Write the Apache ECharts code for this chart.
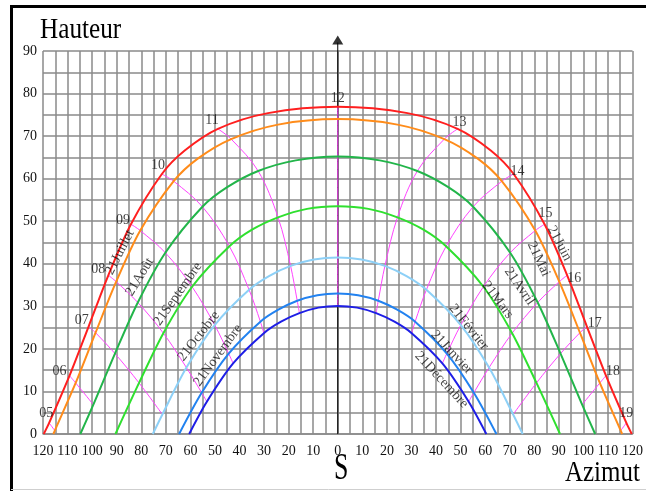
<!DOCTYPE html>
<html><head><meta charset="utf-8">
<script src="https://cdn.jsdelivr.net/npm/echarts@6/dist/echarts.min.js"></script>
<style>html,body{margin:0;padding:0;background:#fff}#c{width:646px;height:491px}</style>
</head><body><div id="c"></div>
<script>
// ---- data (azimuth [deg, east negative], altitude [deg]) ----
const xTicks = [-120,-110,-100,-90,-80,-70,-60,-50,-40,-30,-20,-10,0,10,20,30,40,50,60,70,80,90,100,110,120];
const yTicks = [0,10,20,30,40,50,60,70,80,90];

const juin = [[-119.7,0],[-117.5,2.6],[-109.2,13.7],[-101.4,25.3],[-93.4,37.3],[-84.2,49.3],[-71.6,61.1],[-62.3,66.6],[-48.8,71.7],[-28.4,75.4],[0,76.9],[28.4,75.4],[48.8,71.7],[62.3,66.6],[71.6,61.1],[84.2,49.3],[93.4,37.3],[101.4,25.3],[109.2,13.7],[117.5,2.6],[119.7,0]];
const mai = [[-115.8,0],[-115.2,0.8],[-106.7,12.0],[-98.6,23.8],[-90.2,35.8],[-80.4,47.8],[-66.8,59.4],[-57.0,64.7],[-43.4,69.3],[-24.3,72.7],[0,74.0],[24.3,72.7],[43.4,69.3],[57.0,64.7],[66.8,59.4],[80.4,47.8],[90.2,35.8],[98.6,23.8],[106.7,12.0],[115.2,0.8],[115.8,0]];
const avril = [[-104.8,0],[-99.5,6.9],[-90.7,18.9],[-81.4,30.9],[-70.2,42.6],[-55.1,53.4],[-45.0,58.0],[-32.4,61.8],[-17.1,64.3],[0,65.2],[17.1,64.3],[32.4,61.8],[45.0,58.0],[55.1,53.4],[70.2,42.6],[81.4,30.9],[90.7,18.9],[99.5,6.9],[104.8,0]];
const mars = [[-90.5,0],[-80.9,12.0],[-71.0,23.7],[-59.3,34.6],[-44.1,44.1],[-34.9,48.0],[-24.3,50.9],[-12.5,52.9],[0,53.5],[12.5,52.9],[24.3,50.9],[34.9,48.0],[44.1,44.1],[59.3,34.6],[71.0,23.7],[80.9,12.0],[90.5,0]];
const fevrier = [[-75.3,0],[-71.4,4.6],[-61.6,15.6],[-50.1,25.6],[-36.1,33.9],[-28.0,37.1],[-19.2,39.5],[-9.7,41.0],[0,41.5],[9.7,41.0],[19.2,39.5],[28.0,37.1],[36.1,33.9],[50.1,25.6],[61.6,15.6],[71.4,4.6],[75.3,0]];
const janvier = [[-64.6,0],[-55.4,9.7],[-44.4,18.9],[-31.5,26.4],[-24.2,29.2],[-16.5,31.3],[-8.3,32.6],[0,33.0],[8.3,32.6],[16.5,31.3],[24.2,29.2],[31.5,26.4],[44.4,18.9],[55.4,9.7],[64.6,0]];
const decembre = [[-60.5,0],[-53.3,7.6],[-42.6,16.6],[-30.1,23.7],[-23.1,26.4],[-15.6,28.4],[-7.9,29.7],[0,30.1],[7.9,29.7],[15.6,28.4],[23.1,26.4],[30.1,23.7],[42.6,16.6],[53.3,7.6],[60.5,0]];

const h05 = [[-117.5,2.6],[-115.2,0.8]];
const h06 = [[-109.2,13.7],[-106.7,12.0],[-99.5,6.9]];
const h07 = [[-101.4,25.3],[-98.6,23.8],[-90.7,18.9],[-80.9,12.0],[-71.4,4.6]];
const h08 = [[-93.4,37.3],[-90.2,35.8],[-81.4,30.9],[-71.0,23.7],[-61.6,15.6],[-55.4,9.7],[-53.3,7.6]];
const h09 = [[-84.2,49.3],[-80.4,47.8],[-70.2,42.6],[-59.3,34.6],[-50.1,25.6],[-44.4,18.9],[-42.6,16.6]];
const h10 = [[-71.6,61.1],[-66.8,59.4],[-55.1,53.4],[-44.1,44.1],[-36.1,33.9],[-31.5,26.4],[-30.1,23.7]];
const h11 = [[-48.8,71.7],[-43.4,69.3],[-32.4,61.8],[-24.3,50.9],[-19.2,39.5],[-16.5,31.3],[-15.6,28.4]];
const h12 = [[0,76.9],[0,30.1]];
const h13 = [[48.8,71.7],[43.4,69.3],[32.4,61.8],[24.3,50.9],[19.2,39.5],[16.5,31.3],[15.6,28.4]];
const h14 = [[71.6,61.1],[66.8,59.4],[55.1,53.4],[44.1,44.1],[36.1,33.9],[31.5,26.4],[30.1,23.7]];
const h15 = [[84.2,49.3],[80.4,47.8],[70.2,42.6],[59.3,34.6],[50.1,25.6],[44.4,18.9],[42.6,16.6]];
const h16 = [[93.4,37.3],[90.2,35.8],[81.4,30.9],[71.0,23.7],[61.6,15.6],[55.4,9.7],[53.3,7.6]];
const h17 = [[101.4,25.3],[98.6,23.8],[90.7,18.9],[80.9,12.0],[71.4,4.6]];
const h18 = [[109.2,13.7],[106.7,12.0],[99.5,6.9]];
const h19 = [[117.5,2.6],[115.2,0.8]];

const hourLabels = ['05','06','07','08','09','10','11','12','13','14','15','16','17','18','19'];
const hourPoints = [[-117.5,2.6],[-109.2,13.7],[-101.4,25.3],[-93.4,37.3],[-84.2,49.3],[-71.6,61.1],[-48.8,71.7],[0,76.9],[48.8,71.7],[71.6,61.1],[84.2,49.3],[93.4,37.3],[101.4,25.3],[109.2,13.7],[117.5,2.6]];

const curveLabelText = ['21Juillet','21Août','21Septembre','21Octobre','21Novembre','21Juin','21Mai','21Avril','21Mars','21Février','21Janvier','21Décembre'];
const curveLabelAt = [[-88.7,42.7],[-80.6,36.9],[-65.1,32.9],[-56.6,23.0],[-48.8,18.5],[90.3,44.8],[81.8,41.1],[74.0,34.7],[65.1,31.5],[53.3,25.1],[46.4,19.2],[42.3,12.7]];

const axisArrow = [[0,0],[0,92]];
const arrowHead = [[0,92.6]];

// ---- styles ----
const SERIF = "'Liberation Serif','DejaVu Serif',serif";
const curveRot = [63,59,55,52,54,-62,-65,-55,-53,-51,-47,-47];
const hourOffsets = [[-3,-10],[-10,-4],[-7,-6],[-10,-6],[-8,-4],[-4,-9],[-6,-9],[0,-8],[2,-7],[4,-3],[1,-11],[7,3],[8,-3],[7,-4],[0,-10]];

const dateCurves = [
  {data: decembre, color:'#1e1ee6'},
  {data: janvier, color:'#2282f0'},
  {data: fevrier, color:'#8dd0f7'},
  {data: mars, color:'#2fe02f'},
  {data: avril, color:'#22b54a'},
  {data: mai, color:'#ff8c1a'},
  {data: juin, color:'#ff1f1f'}
];
const hourLines = [h05,h06,h07,h08,h09,h10,h11,h12,h13,h14,h15,h16,h17,h18,h19];

const series = [];
series.push({type:'line', data: axisArrow, symbol:'none', clip:false, silent:true,
  lineStyle:{color:'#000', width:1}, z:2});
series.push({type:'scatter', data: arrowHead, symbol:'triangle', symbolSize:[11,9], clip:false,
  itemStyle:{color:'#000'}, z:2});
hourLines.forEach(d => series.push({type:'line', data:d, symbol:'none', smooth:0.35,
  lineStyle:{color:'#ff44ff', width:1}, z:3}));
dateCurves.forEach(c => series.push({type:'line', data:c.data, symbol:'none', smooth:0.3,
  lineStyle:{color:c.color, width:2}, z:4}));
series.push({type:'scatter', symbolSize:0, z:6,
  data: hourPoints.map((p,i)=>({value:p, label:{offset:hourOffsets[i]}})),
  label:{show:true, position:'inside', align:'center', verticalAlign:'middle',
    formatter: p => hourLabels[p.dataIndex], fontFamily:SERIF, fontSize:14, color:'#111'}});
series.push({type:'scatter', symbolSize:0, z:6,
  data: curveLabelAt.map((p,i)=>({value:p, label:{rotate:curveRot[i]}})),
  label:{show:true, position:'inside', align:'center', verticalAlign:'middle',
    formatter: p => curveLabelText[p.dataIndex], fontFamily:SERIF, fontSize:14, color:'#111'}});

const chart = echarts.init(document.getElementById('c'), null, {renderer:'canvas'});
chart.setOption({
  animation:false,
  backgroundColor:'#fff',
  grid:{left:43, right:13, top:51, bottom:57, containLabel:false},
  xAxis:{type:'value', min:xTicks[0], max:xTicks[xTicks.length-1], interval:10,
    axisLine:{show:true, lineStyle:{color:'#8a8a8a', width:1.5}}, axisTick:{show:false},
    axisLabel:{formatter:v=>String(Math.abs(v)), fontFamily:SERIF, fontSize:14, color:'#111', margin:10},
    splitLine:{show:true, lineStyle:{color:'#8a8a8a', width:1.5}},
    minorTick:{show:false, splitNumber:2},
    minorSplitLine:{show:true, lineStyle:{color:'#8a8a8a', width:1.5}}},
  yAxis:{type:'value', min:yTicks[0], max:yTicks[yTicks.length-1], interval:10,
    axisLine:{show:true, lineStyle:{color:'#8a8a8a', width:1.5}}, axisTick:{show:false},
    axisLabel:{fontFamily:SERIF, fontSize:14, color:'#111', margin:6},
    splitLine:{show:true, lineStyle:{color:'#8a8a8a', width:1.5}},
    minorTick:{show:false, splitNumber:2},
    minorSplitLine:{show:true, lineStyle:{color:'#8a8a8a', width:1.5}}},
  graphic:[
    {type:'polyline', shape:{points:[[11.5,491],[11.5,6.5],[646,6.5]]}, style:{stroke:'#000', lineWidth:3, fill:null}},
    {type:'line', shape:{x1:11, y1:489.5, x2:646, y2:489.5}, style:{stroke:'#cfcfcf', lineWidth:1}},
    {type:'text', x:40, y:45, scaleX:0.87, style:{text:'Hauteur', font:"29px 'Liberation Serif', serif", fill:'#000', textVerticalAlign:'bottom'}},
    {type:'text', x:334, y:488, scaleX:0.7, style:{text:'S', font:"37px 'Liberation Serif', serif", fill:'#000', textVerticalAlign:'bottom'}},
    {type:'text', x:565, y:488, scaleX:0.86, style:{text:'Azimut', font:"29px 'Liberation Serif', serif", fill:'#000', textVerticalAlign:'bottom'}}
  ],
  series: series
});
</script>
</body></html>
